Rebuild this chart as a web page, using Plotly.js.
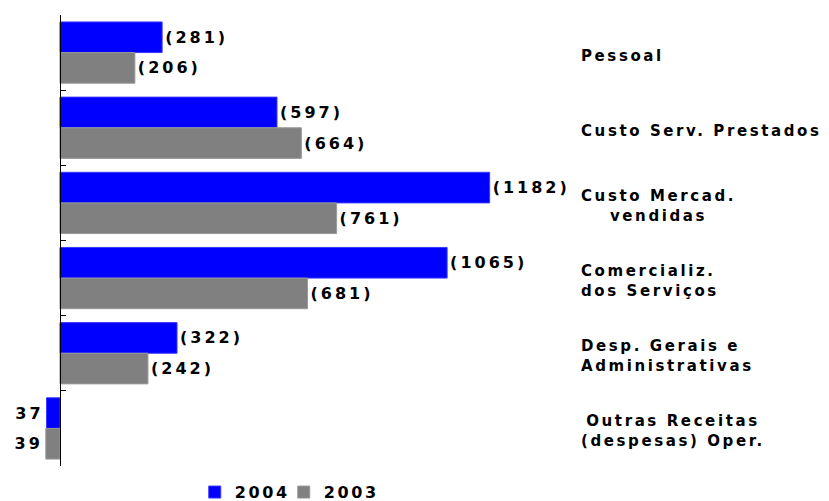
<!DOCTYPE html>
<html>
<head>
<meta charset="utf-8">
<script src="https://cdn.plot.ly/plotly-3.0.1.min.js"></script>
<style>
  html, body { margin: 0; padding: 0; background: #fff; }
  text { letter-spacing: 2.6px; }
  text.bartext { letter-spacing: 3px; }
</style>
</head>
<body>
<div id="chart" style="width:829px;height:501px;"></div>
<script>
// ---- data ----
const categories = [
  'Pessoal',
  'Custo Serv. Prestados',
  'Custo Mercad.<br>vendidas',
  'Comercializ.<br>dos Serviços',
  'Desp. Gerais e<br>Administrativas',
  'Outras Receitas<br>(despesas) Oper.'
];
const values2004 = [281, 597, 1182, 1065, 322, -37];
const values2003 = [206, 664, 761, 681, 242, -39];
const seriesNames = ['2004', '2003'];

// ---- presentation ----
const labelAlign = ['left', 'left', 'center', 'left', 'left', 'center'];
const fmt = v => v > 0 ? '(' + v + ')' : String(-v);
const xmin = -137.5, xmax = 1416.8;
const fam = 'DejaVu Sans, Verdana, sans-serif';
const catFont = {family: fam, size: 15, color: '#000', weight: 'bold'};
const valFont = {family: fam, size: 16, color: '#000', weight: 'bold'};

const traces = [
  {
    type: 'bar', orientation: 'h', name: seriesNames[0],
    y: categories, x: values2004,
    text: values2004.map(fmt), textposition: 'outside', cliponaxis: false,
    textfont: valFont, legendwidth: 44,
    marker: {color: '#0000ff', line: {color: '#3a3aff', width: 1}}
  },
  {
    type: 'bar', orientation: 'h', name: seriesNames[1],
    y: categories, x: values2003,
    text: values2003.map(fmt), textposition: 'outside', cliponaxis: false,
    textfont: valFont, legendwidth: 64,
    marker: {color: '#808080', line: {color: '#9a9a9a', width: 1}}
  }
];

const annotations = categories.map((c, i) => ({
  xref: 'paper', yref: 'y', x: 1, y: c, xshift: 4, yshift: -3,
  xanchor: 'left', yanchor: 'middle', align: labelAlign[i],
  text: c, showarrow: false, font: catFont
}));

const layout = {
  width: 829, height: 501,
  margin: {l: 10, r: 254, t: 15, b: 35, autoexpand: false},
  paper_bgcolor: '#fff', plot_bgcolor: '#fff',
  barmode: 'group', bargap: 0.185, bargroupgap: 0,
  showlegend: true,
  legend: {
    orientation: 'h', x: 0.327, xanchor: 'left', y: -0.058, yanchor: 'middle',
    font: valFont, itemwidth: 30, entrywidthmode: 'pixels',
    traceorder: 'normal', bgcolor: 'rgba(0,0,0,0)'
  },
  xaxis: {
    range: [xmin, xmax], showgrid: false, zeroline: false,
    showticklabels: false, showline: false, ticks: ''
  },
  yaxis: {
    type: 'category', autorange: 'reversed',
    anchor: 'free', position: -xmin / (xmax - xmin),
    showline: true, linecolor: '#000', linewidth: 1.5,
    ticks: 'inside', tickson: 'boundaries', ticklen: 5, tickcolor: '#000', tickwidth: 1,
    showticklabels: false, showgrid: false, zeroline: false
  },
  annotations: annotations,
  font: catFont
};

Plotly.newPlot('chart', traces, layout, {displayModeBar: false, staticPlot: true});
</script>
</body>
</html>
